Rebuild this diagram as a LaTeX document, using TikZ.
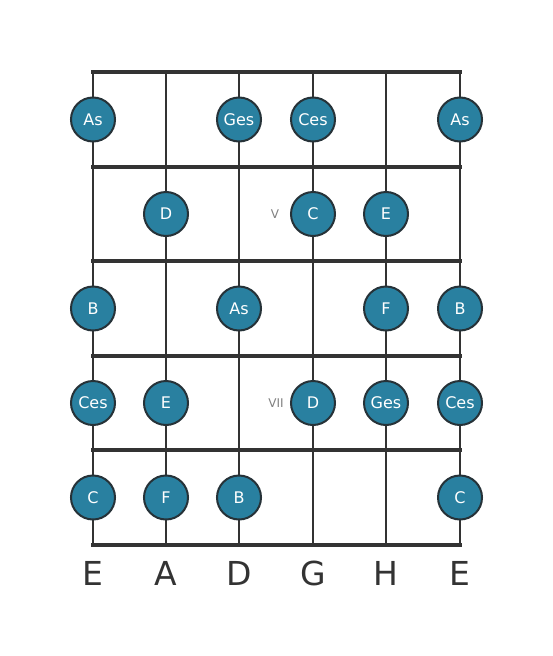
\documentclass[tikz,border=0pt]{standalone}
\usepackage{fontspec}
\setmainfont{DejaVu Sans}
\definecolor{dotfill}{RGB}{41,128,160}
\definecolor{linec}{RGB}{51,51,51}
\definecolor{rimc}{RGB}{38,50,56}
\begin{document}
\begin{tikzpicture}[x=1pt,y=-1pt,
  fret/.style={line width=4.5pt,draw=linec},
  str/.style={line width=2.6pt,draw=linec},
  dot/.style={circle,fill=dotfill,draw=rimc,line width=2pt,minimum size=44pt,inner sep=0pt,text=white,font=\fontsize{16}{16}\selectfont},
  roman/.style={text=gray,font=\fontsize{12}{12}\selectfont},
  strlab/.style={text=linec,font=\fontsize{33}{33}\selectfont}]
\useasboundingbox (0,0) rectangle (553,656);
\foreach \i/\x in {1/93,2/166,3/239,4/313,5/386,6/460}{
  \coordinate (s\i t) at (\x,72);
  \coordinate (s\i b) at (\x,545);
  \draw[str] (s\i t) -- (s\i b);
}
\foreach \j/\y in {0/72,1/167,2/261,3/356,4/450,5/545}{
  \coordinate (f\j l) at (93,\y);
  \coordinate (f\j r) at (460,\y);
  \draw[fret,line cap=rect] (f\j l) -- (f\j r);
}
% fret 1
\node[dot] (a1) at (93,119.5) {As};
\node[dot] (a3) at (239,119.5) {Ges};
\node[dot] (a4) at (313,119.5) {Ces};
\node[dot] (a6) at (460,119.5) {As};
% fret 2
\node[dot] (b2) at (166,214) {D};
\node[dot] (b4) at (313,214) {C};
\node[dot] (b5) at (386,214) {E};
\node[roman] (r5) at (275,214) {V};
% fret 3
\node[dot] (c1) at (93,308.5) {B};
\node[dot] (c3) at (239,308.5) {As};
\node[dot] (c5) at (386,308.5) {F};
\node[dot] (c6) at (460,308.5) {B};
% fret 4
\node[dot] (d1) at (93,403) {Ces};
\node[dot] (d2) at (166,403) {E};
\node[dot] (d4) at (313,403) {D};
\node[dot] (d5) at (386,403) {Ges};
\node[dot] (d6) at (460,403) {Ces};
\node[roman] (r7) at (276,403) {VII};
% fret 5
\node[dot] (e1) at (93,497.5) {C};
\node[dot] (e2) at (166,497.5) {F};
\node[dot] (e3) at (239,497.5) {B};
\node[dot] (e6) at (460,497.5) {C};
% string names
\node[strlab] (l1) at (93,573) {E};
\node[strlab] (l2) at (166,573) {A};
\node[strlab] (l3) at (239,573) {D};
\node[strlab] (l4) at (313,573) {G};
\node[strlab] (l5) at (386,573) {H};
\node[strlab] (l6) at (460,573) {E};
\end{tikzpicture}
\end{document}
